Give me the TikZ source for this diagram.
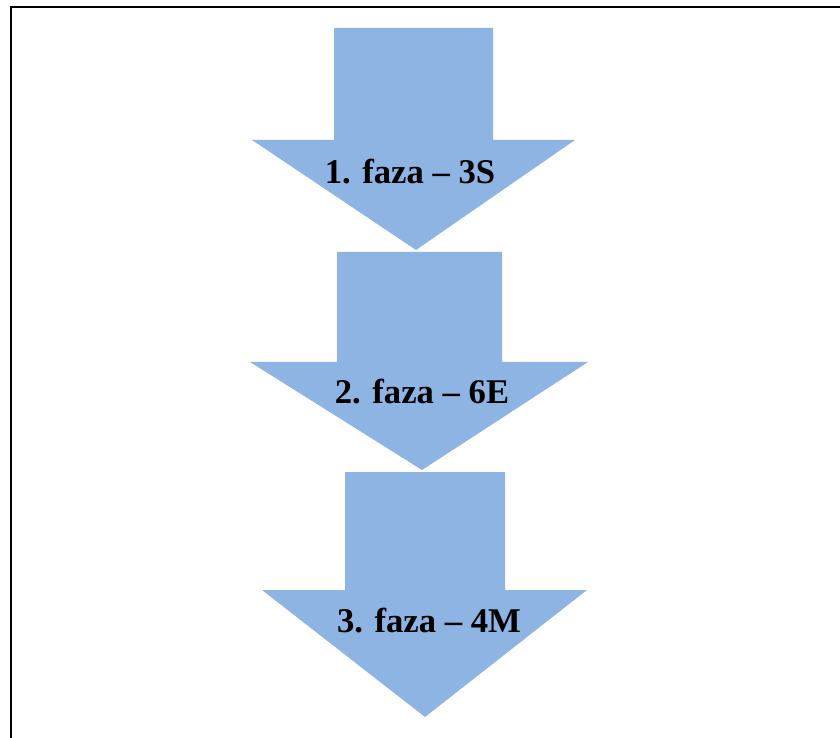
\documentclass[tikz,border=0pt]{standalone}
\usepackage{fontspec}
\setmainfont{Liberation Serif}
\definecolor{phaseblue}{RGB}{142,180,227}
\begin{document}
\begin{tikzpicture}[x=0.75pt,y=-0.75pt,
	phase/.style={fill=phaseblue},
	label/.style={font=\fontsize{26}{30}\selectfont\bfseries}]
	\useasboundingbox (0,0) rectangle (840,738);
	\clip (0,0) rectangle (840,738);
	\draw[line width=2pt] (11,750) -- (11,7) -- (850,7);

	\fill[phase] (334,28) -- (493,28) -- (493,140) -- (575,140) -- (416,250) -- (252,140) -- (334,140) -- cycle;
	\fill[phase] (337,252) -- (502,252) -- (502,362) -- (588,362) -- (422,470) -- (250,362) -- (337,362) -- cycle;
	\fill[phase] (345,472) -- (505,472) -- (505,590) -- (587,590) -- (425,717) -- (262,590) -- (345,590) -- cycle;

	\node[label] (f1) at (410,172) {1. faza -- 3S};
	\node[label] (f2) at (422,392) {2. faza -- 6E};
	\node[label] (f3) at (429,621) {3. faza -- 4M};
\end{tikzpicture}
\end{document}
